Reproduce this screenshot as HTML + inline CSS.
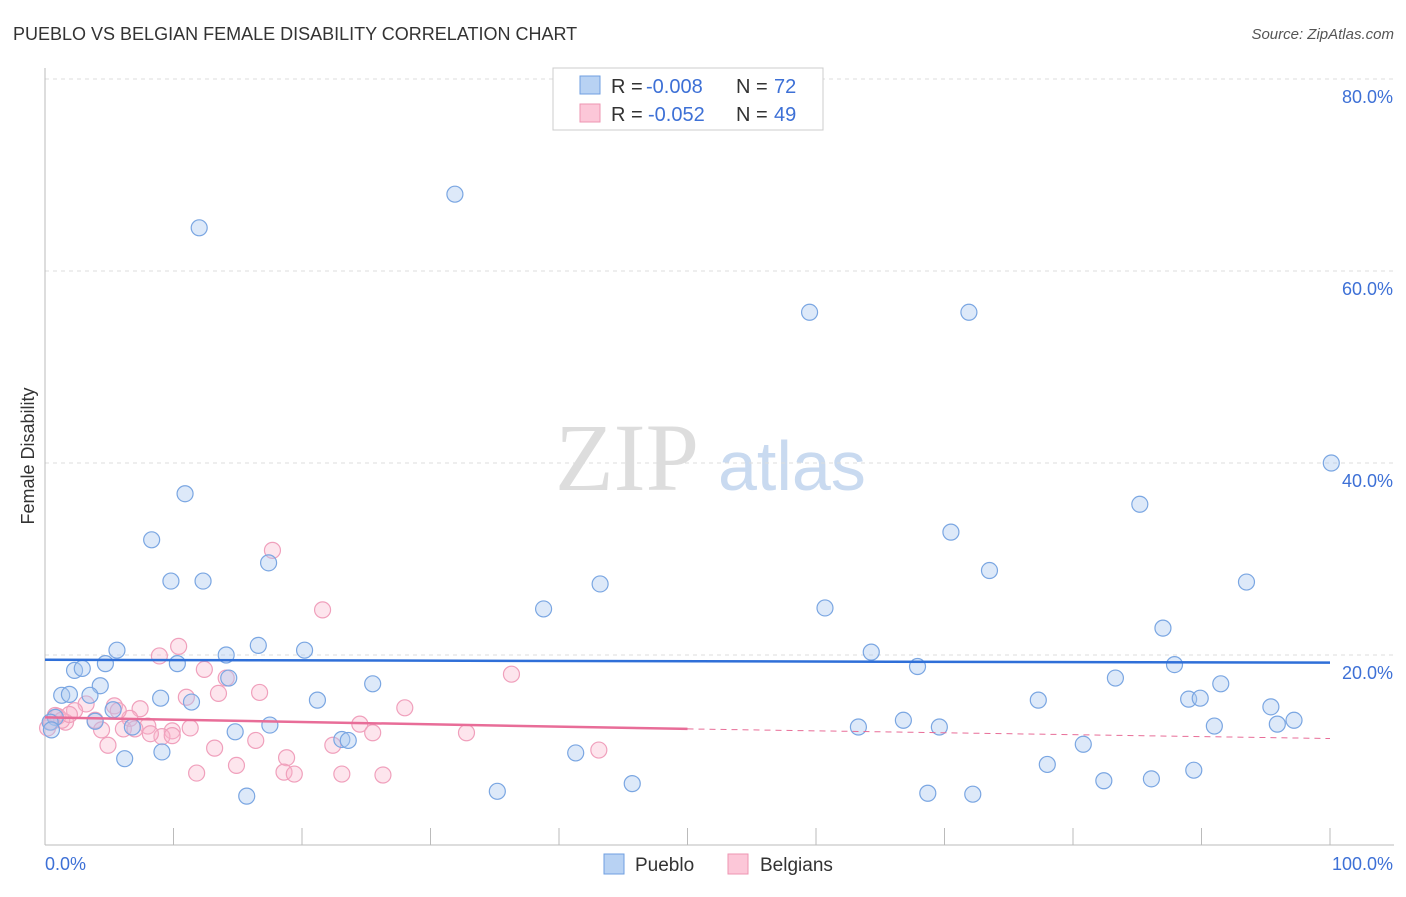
<!DOCTYPE html>
<html><head><meta charset="utf-8"><style>
body{margin:0;background:#fff;font-family:"Liberation Sans",sans-serif;}
</style></head><body>
<svg width="1406" height="892" xmlns="http://www.w3.org/2000/svg" id="svg" style="font-family:'Liberation Sans',sans-serif">
<text x="13" y="40" font-size="18" fill="#333">PUEBLO VS BELGIAN FEMALE DISABILITY CORRELATION CHART</text>
<text x="1394" y="39" font-size="15" fill="#555" text-anchor="end" font-style="italic">Source: ZipAtlas.com</text>
<text transform="translate(34,456) rotate(-90)" font-size="18" fill="#333" text-anchor="middle">Female Disability</text>
<text x="555" y="490" font-size="96" fill="#ddd" font-family="'Liberation Serif',serif">ZIP</text>
<text x="718" y="490" font-size="70" fill="#c9daf0">atlas</text>
<g id="grid"></g><g id="marks"></g>
<g>
<rect x="553" y="68" width="270" height="62" fill="#fff" stroke="#ccc"/>
<rect x="580" y="76" width="20" height="18" fill="#b8d2f3" stroke="#6f9fe0"/>
<rect x="580" y="104" width="20" height="18" fill="#fcc7d8" stroke="#ee94b2"/>
<text x="611" y="93" font-size="20" fill="#333">R =</text>
<text x="646" y="93" font-size="20" fill="#3d70d6">-0.008</text>
<text x="736" y="93" font-size="20" fill="#333">N =</text>
<text x="774" y="93" font-size="20" fill="#3d70d6">72</text>
<text x="611" y="121" font-size="20" fill="#333">R =</text>
<text x="648" y="121" font-size="20" fill="#3d70d6">-0.052</text>
<text x="736" y="121" font-size="20" fill="#333">N =</text>
<text x="774" y="121" font-size="20" fill="#3d70d6">49</text>
</g>
<g>
<rect x="604" y="854" width="20" height="20" fill="#b8d2f3" stroke="#6f9fe0"/>
<text x="635" y="871" font-size="19" fill="#333">Pueblo</text>
<rect x="728" y="854" width="20" height="20" fill="#fcc7d8" stroke="#ee94b2"/>
<text x="760" y="871" font-size="19" fill="#333">Belgians</text>
</g>
</svg>
<script>
const yTicks=[20,40,60,80];
const yTickLabels=["20.0%","40.0%","60.0%","80.0%"];
const xTicks=[0,10,20,30,40,50,60,70,80,90,100];
const puebloX=[12.0,31.9,59.5,71.9,100.1,85.2,70.5,8.3,10.9,17.4,9.8,12.3,43.2,73.5,93.5,38.8,60.7,87.0,16.6,20.2,5.6,14.1,10.3,14.3,64.3,67.9,87.9,4.7,2.3,2.9,83.3,25.5,4.3,1.3,3.5,1.9,9.0,11.4,21.2,77.3,89.0,89.9,91.5,95.4,0.8,5.3,3.9,6.8,17.5,63.3,66.8,69.6,91.0,95.9,97.2,14.8,23.1,23.6,80.8,9.1,6.2,41.3,78.0,89.4,82.4,86.1,45.7,15.7,35.2,68.7,72.2,0.4,0.5];
const puebloY=[64.5,68.0,55.7,55.7,40.0,35.7,32.8,32.0,36.8,29.6,27.7,27.7,27.4,28.8,27.6,24.8,24.9,22.8,21.0,20.5,20.5,20.0,19.1,17.6,20.3,18.8,19.0,19.1,18.4,18.6,17.6,17.0,16.8,15.8,15.8,15.9,15.5,15.1,15.3,15.3,15.4,15.5,17.0,14.6,13.5,14.3,13.1,12.5,12.7,12.5,13.2,12.5,12.6,12.8,13.2,12.0,11.2,11.1,10.7,9.9,9.2,9.8,8.6,8.0,6.9,7.1,6.6,5.3,5.8,5.6,5.5,13.0,12.2];
const belgX=[17.7,21.6,10.4,8.9,12.4,36.3,14.1,16.7,13.5,11.0,28.0,7.4,5.4,3.2,2.3,1.0,1.6,3.9,0.8,6.6,8.0,6.1,7.0,9.9,11.3,24.5,25.5,32.8,4.4,9.1,9.9,4.9,22.4,13.2,16.4,18.8,43.1,18.6,19.4,11.8,14.9,23.1,26.3,0.2,0.5,1.3,1.9,5.7,8.2];
const belgY=[30.9,24.7,20.9,19.9,18.5,18.0,17.6,16.1,16.0,15.6,14.5,14.4,14.7,14.9,14.2,13.6,13.0,13.2,13.7,13.4,12.6,12.3,12.3,12.1,12.4,12.8,11.9,11.9,12.2,11.5,11.6,10.6,10.6,10.3,11.1,9.3,10.1,7.8,7.6,7.7,8.5,7.6,7.5,12.4,13.0,13.2,13.8,14.2,11.8];
const puebloTrend=[19.5,19.2];
const belgTrend=[13.5,12.3,11.3];
const X=v=>45+v*12.85, Y=v=>847-v*9.6;
const NS="http://www.w3.org/2000/svg";
function mk(tag,attrs,parent){const e=document.createElementNS(NS,tag);for(const k in attrs)e.setAttribute(k,attrs[k]);document.getElementById(parent).appendChild(e);return e;}
yTicks.forEach((t,i)=>{
 let l=mk('line',{x1:45,x2:1394,y1:Y(t),y2:Y(t),stroke:'#ddd','stroke-dasharray':'4,4'},'grid');
 
 
 let tx=mk('text',{x:1393,y:Y(t)+24,'font-size':18,fill:'#3d70d6','text-anchor':'end'},'grid');
 tx.textContent=yTickLabels[i];
 
 
});
let ax=mk('line',{x1:45,x2:45,y1:68,y2:845,stroke:'#bbb'},'grid');


let bx=mk('line',{x1:45,x2:1394,y1:845,y2:845,stroke:'#bbb'},'grid');


xTicks.forEach(t=>{let l=mk('line',{x1:X(t),x2:X(t),y1:828,y2:845,stroke:'#bbb'},'grid');
 
 });
let x0=mk('text',{x:45,y:870,'font-size':18,fill:'#3d70d6'},'grid');x0.textContent='0.0%';


let x1=mk('text',{x:1393,y:870,'font-size':18,fill:'#3d70d6','text-anchor':'end'},'grid');x1.textContent='100.0%';


belgX.forEach((v,i)=>{let c=mk('circle',{cx:X(v),cy:Y(belgY[i]),r:8,fill:'rgba(248,180,204,0.35)',stroke:'#f0a0bc','stroke-width':1.2},'marks');
 
 });
puebloX.forEach((v,i)=>{let c=mk('circle',{cx:X(v),cy:Y(puebloY[i]),r:8,fill:'rgba(170,200,240,0.4)',stroke:'#7aa6e2','stroke-width':1.2},'marks');
 
 });
let pt=mk('line',{x1:X(0),x2:X(100),y1:Y(puebloTrend[0]),y2:Y(puebloTrend[1]),stroke:'#2f6fd8','stroke-width':2.5},'marks');


let bt=mk('line',{x1:X(0),x2:X(50),y1:Y(belgTrend[0]),y2:Y(belgTrend[1]),stroke:'#e86d98','stroke-width':2.5},'marks');


let bd=mk('line',{x1:X(50),x2:X(100),y1:Y(belgTrend[1]),y2:Y(belgTrend[2]),stroke:'#e86d98','stroke-width':1,'stroke-dasharray':'6,5'},'marks');


</script>
</body></html>
